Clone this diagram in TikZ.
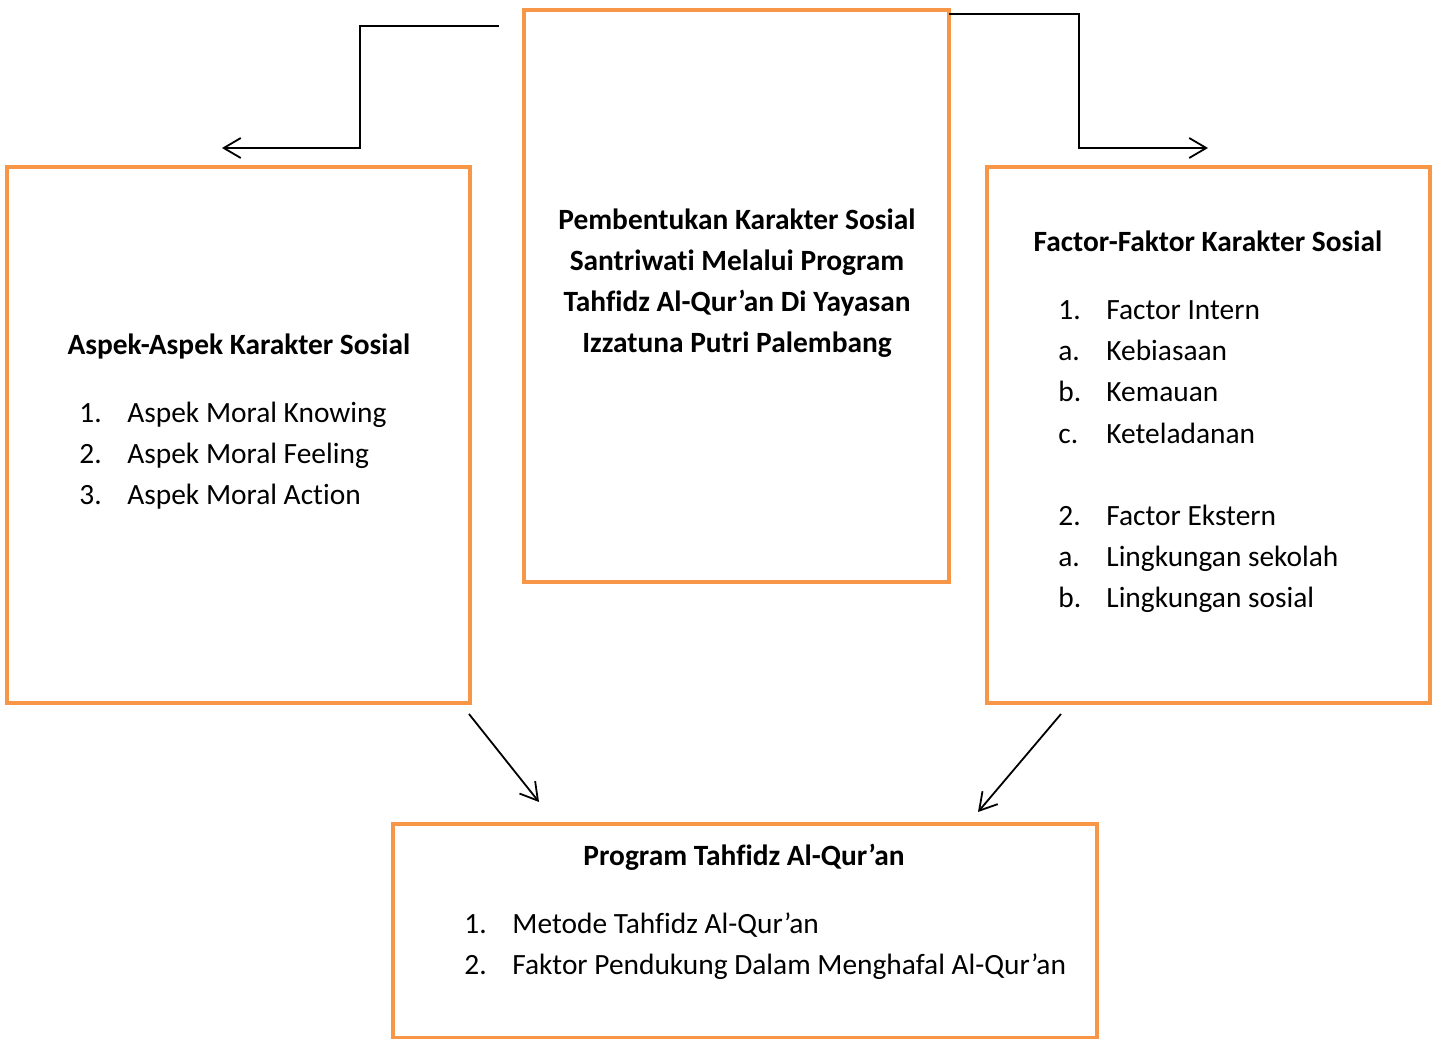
\documentclass[tikz,border=0pt]{standalone}
\usepackage{fontspec}
\setmainfont{Carlito}[RawFeature=-liga]
\usetikzlibrary{arrows.meta}
\definecolor{boxorange}{HTML}{F79646}
\begin{document}
\begin{tikzpicture}[x=0.5pt,y=-0.5pt,
  frame/.style={draw=boxorange,line width=2pt,rectangle,inner sep=0pt},
  conn/.style={draw=black,line width=0.9pt,-{Straight Barb[length=8.5pt,width=10pt,line width=0.9pt]}},
  ttl/.style={font=\fontsize{14.7}{20.5}\selectfont\bfseries,anchor=base,inner sep=0pt},
  itm/.style={font=\fontsize{14.7}{20.5}\selectfont,anchor=base west,inner sep=0pt}]
\useasboundingbox (0,0) rectangle (1432,1039);
% boxes
\node[frame,minimum width=212.5pt,minimum height=286pt] (cbox) at (736.5,296) {};
\node[frame,minimum width=231.5pt,minimum height=268pt] (lbox) at (238.5,435) {};
\node[frame,minimum width=221.5pt,minimum height=268pt] (rbox) at (1208.5,435) {};
\node[frame,minimum width=352pt,minimum height=107pt] (bbox) at (745,931) {};
% center text
\node[ttl] (c1) at (737,229) {Pembentukan Karakter Sosial};
\node[ttl] (c2) at (737,270) {Santriwati Melalui Program};
\node[ttl] (c3) at (737,311) {Tahfidz Al-Qur’an Di Yayasan};
\node[ttl] (c4) at (737,352) {Izzatuna Putri Palembang};
% left
\node[ttl] (lt) at (239,354) {Aspek-Aspek Karakter Sosial};
\node[itm] (ln1) at (79,422) {1.};
\node[itm] (ln2) at (79,463) {2.};
\node[itm] (ln3) at (79,504) {3.};
\node[itm] (l1) at (127,422) {Aspek Moral Knowing};
\node[itm] (l2) at (127,463) {Aspek Moral Feeling};
\node[itm] (l3) at (127,504) {Aspek Moral Action};
% right
\node[ttl] (rt) at (1208,251) {Factor-Faktor Karakter Sosial};
\foreach \n/\lab/\txt/\yy in {1/1./Factor Intern/319, 2/a./Kebiasaan/360, 3/b./Kemauan/401, 4/c./Keteladanan/443, 5/2./Factor Ekstern/525, 6/a./Lingkungan sekolah/566, 7/b./Lingkungan sosial/607}{
  \node[itm] (rn\n) at (1058,\yy) {\lab};
  \node[itm] (r\n) at (1106,\yy) {\txt};
}
% bottom
\node[ttl] (bt) at (744,865) {Program Tahfidz Al-Qur’an};
\node[itm] (bn1) at (464,933) {1.};
\node[itm] (bn2) at (464,974) {2.};
\node[itm] (b1) at (512,933) {Metode Tahfidz Al-Qur’an};
\node[itm] (b2) at (512,974) {Faktor Pendukung Dalam Menghafal Al-Qur’an};
% connectors
\coordinate (ls) at (499,26);
\coordinate (le) at (222,148);
\coordinate (rs) at (949,14);
\coordinate (re) at (1208,148);
\coordinate (d1s) at (469,714);
\coordinate (d1e) at (539,802);
\coordinate (d2s) at (1061,714);
\coordinate (d2e) at (978,812);
\draw[conn] (ls) -- (360,26) -- (360,148) -- (le);
\draw[conn] (rs) -- (1079,14) -- (1079,148) -- (re);
\draw[conn] (d1s) -- (d1e);
\draw[conn] (d2s) -- (d2e);
\end{tikzpicture}
\end{document}
